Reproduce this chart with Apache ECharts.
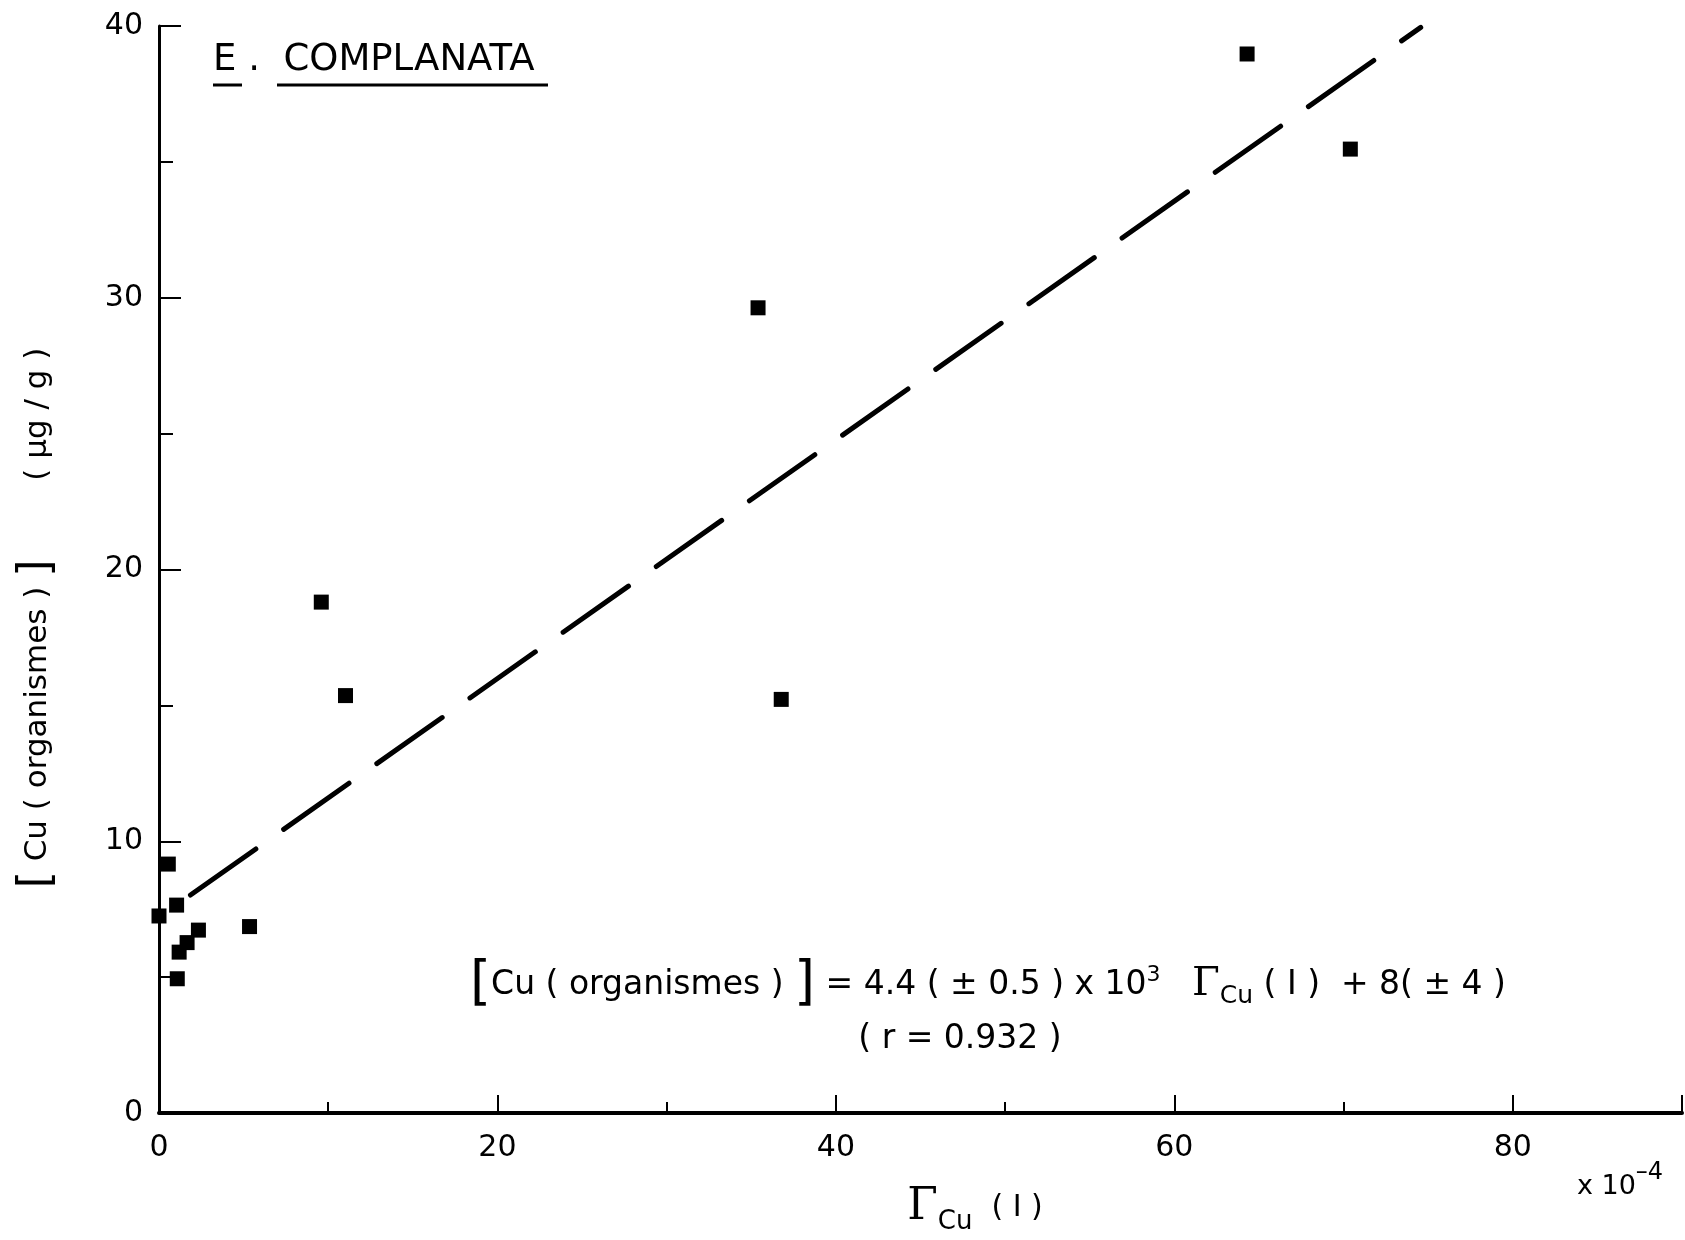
<!DOCTYPE html>
<html>
<head>
<meta charset="utf-8">
<style>
  html, body { margin: 0; padding: 0; background: #fff; }
  #chart { width: 1685px; height: 1240px; }
</style>
<script src="https://cdn.jsdelivr.net/npm/echarts@6/dist/echarts.min.js"></script>
</head>
<body>
<div id="chart"></div>
<script>
// points (x in units of 1e-4)
var gammaCu = [0, 0.55, 1.04, 1.19, 1.08, 1.66, 2.33, 5.35, 9.59, 11.02, 35.4, 36.77, 64.3, 70.4];
var cuOrg = [7.25, 9.16, 7.65, 5.92, 4.94, 6.27, 6.73, 6.86, 18.8, 15.36, 29.63, 15.22, 38.97, 35.47];
// regression line ends as drawn
var fitX = [1.86, 74.56];
var fitY = [8.02, 39.95];
var xTicks = [0, 20, 40, 60, 80];
var yTicks = [0, 10, 20, 30, 40];

var font = 'DejaVu Sans';
var myChart = echarts.init(document.getElementById('chart'));

var pts = gammaCu.map(function (v, i) { return [v, cuOrg[i]]; });
var fit = fitX.map(function (v, i) { return [v, fitY[i]]; });

var option = {
  backgroundColor: '#fff',
  animation: false,
  grid: { left: 159, top: 26, bottom: 127, right: -6, containLabel: false },
  xAxis: [
    {
      type: 'value', min: 0, max: 90, interval: 10,
      splitLine: { show: false },
      axisLine: { lineStyle: { color: '#000', width: 4 } },
      axisTick: { inside: true, length: 11, lineStyle: { color: '#000', width: 2 } },
      axisLabel: {
        margin: 20, color: '#000', fontFamily: font, fontSize: 30,
        formatter: function (v) { return xTicks.indexOf(v) >= 0 ? String(v) : ''; }
      }
    },
    {
      type: 'value', min: 0, max: 90, interval: 20, position: 'bottom',
      splitLine: { show: false },
      axisLine: { show: false },
      axisTick: { inside: true, length: 18, lineStyle: { color: '#000', width: 2 } },
      axisLabel: { show: false }
    }
  ],
  yAxis: {
    type: 'value', min: 0, max: 40, interval: 10,
    splitLine: { show: false },
    axisLine: { lineStyle: { color: '#000', width: 3 } },
    axisTick: { inside: true, length: 22, lineStyle: { color: '#000', width: 2 } },
    minorTick: { show: true, splitNumber: 2, length: 14, lineStyle: { color: '#000', width: 2 } },
    axisLabel: {
      margin: 16, color: '#000', fontFamily: font, fontSize: 30,
      formatter: function (v) { return yTicks.indexOf(v) >= 0 ? String(v) : ''; }
    }
  },
  series: [
    {
      type: 'line', data: fit, symbol: 'none', silent: true,
      lineStyle: { color: '#000', width: 5, type: [80, 34], cap: 'round' }
    },
    {
      type: 'scatter', data: pts, symbol: 'rect', symbolSize: 15, clip: false,
      itemStyle: { color: '#000', opacity: 1 }
    }
  ],
  graphic: [
    {
      type: 'text', left: 213, top: 42,
      style: { text: 'E .  COMPLANATA', font: '37px "DejaVu Sans"', fill: '#000' }
    },
    { type: 'line', shape: { x1: 213, y1: 85, x2: 242, y2: 85 }, style: { stroke: '#000', lineWidth: 3 } },
    { type: 'line', shape: { x1: 277, y1: 85, x2: 548, y2: 85 }, style: { stroke: '#000', lineWidth: 3 } },
    {
      type: 'text', x: 38, y: 618, rotation: Math.PI / 2,
      style: {
        rich: {
          b: { font: '44px "DejaVu Sans"', fill: '#000' },
          n: { font: '31px "DejaVu Sans"', fill: '#000' }
        },
        text: '{b|[}{n| Cu ( organismes ) }{b|]}{n|        ( µg / g )}',
        align: 'center', verticalAlign: 'middle'
      }
    },
    {
      type: 'text', x: 975, y: 1208,
      style: {
        rich: {
          g: { font: '44px "DejaVu Serif"', fill: '#000' },
          s: { font: '26px "DejaVu Sans"', fill: '#000', padding: [28, 0, 0, 0] },
          n: { font: '30px "DejaVu Sans"', fill: '#000' }
        },
        text: '{g|Γ}{s|Cu}{n|  ( I )}', align: 'center', verticalAlign: 'middle'
      }
    },
    {
      type: 'text', x: 1620, y: 1180,
      style: {
        rich: {
          n: { font: '27px "DejaVu Sans"', fill: '#000', padding: [14, 0, 0, 0] },
          e: { font: '24px "DejaVu Sans"', fill: '#000', padding: [0, 0, 14, 0] }
        },
        text: '{n|x 10}{e|–4}', align: 'center', verticalAlign: 'middle'
      }
    },
    {
      type: 'text', x: 988, y: 985,
      style: {
        rich: {
          b: { font: '54px "DejaVu Sans"', fill: '#000' },
          n: { font: '33px "DejaVu Sans"', fill: '#000' },
          p: { font: '22px "DejaVu Sans"', fill: '#000', padding: [0, 0, 20, 0] },
          g: { font: '40px "DejaVu Serif"', fill: '#000' },
          s: { font: '25px "DejaVu Sans"', fill: '#000', padding: [22, 0, 0, 0] }
        },
        text: '{b|[}{n|Cu ( organismes ) }{b|]}{n| = 4.4 ( ± 0.5 ) x 10}{p|3}{n|   }{g|Γ}{s|Cu}{n| ( I )  + 8( ± 4 )}',
        align: 'center', verticalAlign: 'middle'
      }
    },
    {
      type: 'text', x: 960, y: 1039,
      style: {
        text: '( r = 0.932 )', font: '33px "DejaVu Sans"', fill: '#000',
        align: 'center', verticalAlign: 'middle'
      }
    }
  ]
};

myChart.setOption(option);
</script>
</body>
</html>
